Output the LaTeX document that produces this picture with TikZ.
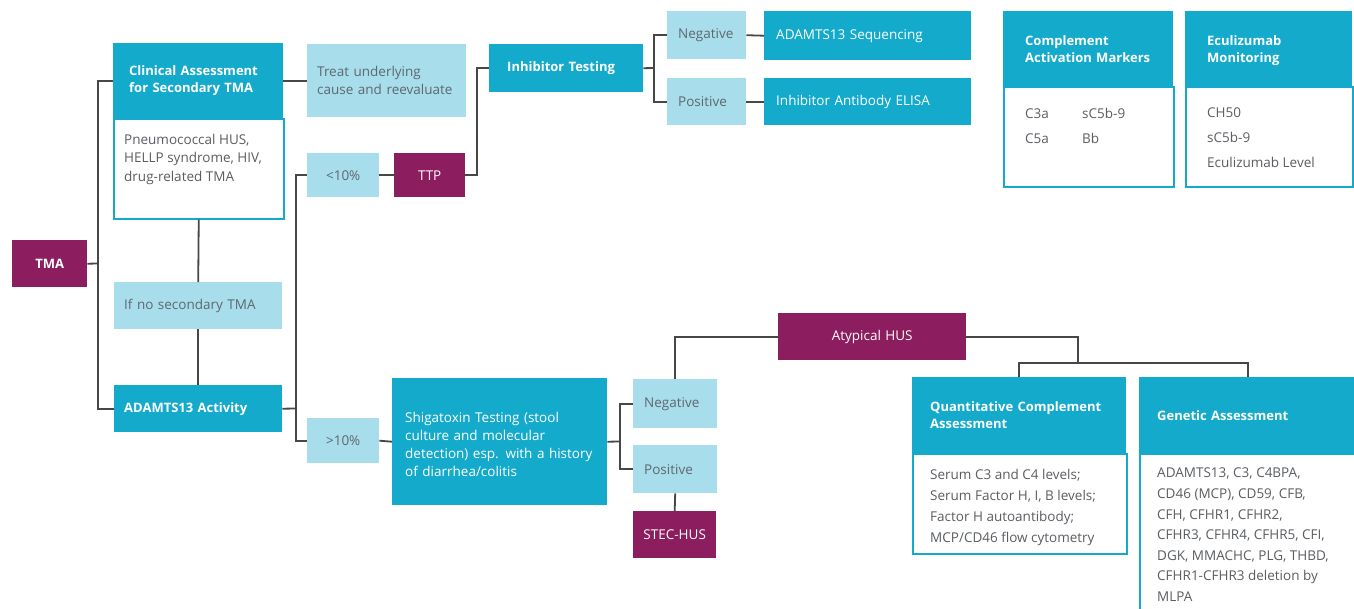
\documentclass[tikz,border=0pt]{standalone}
\usepackage{fontspec}
\setmainfont{Open Sans}
\definecolor{teal1}{HTML}{14AACB}
\definecolor{lblue}{HTML}{A8DDEC}
\definecolor{plum}{HTML}{8C1D5F}
\definecolor{ln}{HTML}{474747}
\definecolor{txt}{HTML}{5E686E}
\definecolor{btxt}{HTML}{5A5E62}
\tikzset{
  base/.style={anchor=north west, inner ysep=0pt, align=left, font=\fontsize{13.5}{19}\selectfont},
  tealb/.style={base, fill=teal1, text=white, font=\bfseries\fontsize{13}{17}\selectfont},
  tealr/.style={base, fill=teal1, text=white},
  light/.style={base, fill=lblue, text=txt},
  plumb/.style={base, fill=plum, text=white, align=center},
  body/.style={anchor=north west, fill=white, draw=teal1, line width=1.5pt, inner sep=0pt},
  btext/.style={anchor=north west, inner sep=0pt, align=left, text=btxt, font=\fontsize{13.5}{20}\selectfont},
  conn/.style={draw=ln, line width=1.8pt},
}
\begin{document}
\begin{tikzpicture}[x=1pt,y=-1pt]
\useasboundingbox (0,0) rectangle (1354,608);
% left part
\node[plumb, font=\bfseries\fontsize{13}{17}\selectfont, minimum height=47, text width=75, inner xsep=0] (tma) at (12,240) {TMA};
\node[tealb, minimum height=75, text width=138, inner xsep=16] (clinH) at (113,43) {Clinical Assessment\\for Secondary TMA};
\node[body, minimum width=170, minimum height=100] (clinB) at (113,118) {};
\node[btext, font=\fontsize{13.5}{18.5}\selectfont] (clinT) at (124,134) {Pneumococcal HUS,\\HELLP syndrome, HIV,\\drug-related TMA};
\node[light, font=\fontsize{13.5}{18}\selectfont, minimum height=73, text width=139, inner xsep=10] (treat) at (307,44) {Treat underlying\\cause and reevaluate};
\node[light, minimum height=47, text width=148, inner xsep=10] (ifno) at (114,282) {If no secondary TMA};
\node[tealb, minimum height=47, text width=148, inner xsep=10] (adam) at (114,385) {ADAMTS13 Activity};
\node[light, align=center, minimum height=44, text width=72, inner xsep=0] (lt10) at (307,153) {\textless10\%};
\node[plumb, minimum height=44, text width=71, inner xsep=0] (ttp) at (394,153) {TTP};
\node[light, align=center, minimum height=45, text width=72, inner xsep=0] (gt10) at (307,418) {\textgreater10\%};
\node[tealr, font=\fontsize{13.5}{18}\selectfont, minimum height=127, text width=189, inner xsep=13] (shiga) at (392,378) {\rule{0pt}{15pt}Shigatoxin Testing (stool\\culture and molecular\\detection) esp. with a history\\of diarrhea/colitis};
% top right
\node[tealb, minimum height=48, text width=118, inner xsep=18] (inhib) at (489,44) {Inhibitor Testing};
\node[light, minimum height=48, text width=57, inner xsep=11] (neg1) at (667,11) {Negative};
\node[light, minimum height=47, text width=57, inner xsep=11] (pos1) at (667,78) {Positive};
\node[tealr, minimum height=49, text width=183, inner xsep=12] (seq) at (764,11) {ADAMTS13 Sequencing};
\node[tealr, minimum height=47, text width=183, inner xsep=12] (elisa) at (764,78) {Inhibitor Antibody ELISA};
\node[tealb, minimum height=75, text width=126, inner xsep=22] (camH) at (1003,11) {Complement\\Activation Markers};
\node[body, minimum width=170, minimum height=100] (camB) at (1003,86) {};
\node[btext, font=\fontsize{13.5}{25}\selectfont] (camT) at (1025,101) {\begin{tabular}{@{}p{57pt}@{}l@{}}C3a & sC5b-9\\ C5a & Bb\end{tabular}};
\node[tealb, minimum height=75, text width=123, inner xsep=22] (ecuH) at (1185,11) {Eculizumab\\\smash{Monitoring}};
\node[body, minimum width=167, minimum height=100] (ecuB) at (1185,86) {};
\node[btext, font=\fontsize{13.5}{25}\selectfont] (ecuT) at (1207,108) {CH50\\sC5b-9\\Eculizumab Level};
% bottom right
\node[plumb, minimum height=47, text width=188, inner xsep=0] (atyp) at (778,313) {Atypical HUS};
\node[light, minimum height=49, text width=62, inner xsep=11] (neg2) at (633,379) {Negative};
\node[light, minimum height=48, text width=62, inner xsep=11] (pos2) at (633,445) {Positive};
\node[plumb, minimum height=47, text width=83, inner xsep=0] (stec) at (633,511) {STEC-HUS};
\node[tealb, minimum height=76, text width=178, inner xsep=18] (quantH) at (912,377) {Quantitative Complement\\Assessment};
\node[body, minimum width=214, minimum height=100] (quantB) at (912,453) {};
\node[btext, font=\fontsize{13.5}{21}\selectfont] (quantT) at (930,469) {Serum C3 and C4 levels;\\Serum Factor H, I, B levels;\\Factor H autoantibody;\\MCP/CD46 flow cytometry};
\node[tealb, minimum height=76, text width=181, inner xsep=18] (genH) at (1139,377) {Genetic Assessment};
\node[body, minimum width=217, minimum height=170] (genB) at (1139,453) {};
\node[btext, font=\fontsize{13.5}{20.6}\selectfont] (genT) at (1157,468) {ADAMTS13, C3, C4BPA,\\CD46 (MCP), CD59, CFB,\\CFH, CFHR1, CFHR2,\\CFHR3, CFHR4, CFHR5, CFI,\\DGK, MMACHC, PLG, THBD,\\CFHR1-CFHR3 deletion by\\MLPA};
% junctions
\coordinate (j1) at (98,263.5);
\coordinate (j2) at (296,408.5);
\coordinate (j3) at (477,120);
\coordinate (j4) at (654,68);
\coordinate (j5) at (620,441.5);
\coordinate (j6) at (1078,363);
% connectors
\draw[conn] (tma.east) -- (j1);
\draw[conn] (clinH.west) -| (j1) |- (adam.west);
\draw[conn] (clinH.east) -- (treat.west);
\draw[conn] (clinB.south) -- (ifno.north);
\draw[conn] (ifno.south) -- (adam.north);
\draw[conn] (adam.east) -- (j2);
\draw[conn] (lt10.west) -| (j2) |- (gt10.west);
\draw[conn] (lt10.east) -- (ttp.west);
\draw[conn] (ttp.east) -| (j3) |- (inhib.west);
\draw[conn] (inhib.east) -- (j4);
\draw[conn] (neg1.west) -| (j4) |- (pos1.west);
\draw[conn] (neg1.east) -- (seq.west);
\draw[conn] (pos1.east) -- (elisa.west);
\draw[conn] (gt10.east) -- (shiga.west);
\draw[conn] (shiga.east) -- (j5);
\draw[conn] (neg2.west) -| (j5) |- (pos2.west);
\draw[conn] (pos2.south) -- (stec.north);
\draw[conn] (neg2.north) |- (atyp.west);
\draw[conn] (atyp.east) -| (j6);
\draw[conn] (quantH.north) |- (j6) -| (genH.north);
\end{tikzpicture}
\end{document}
